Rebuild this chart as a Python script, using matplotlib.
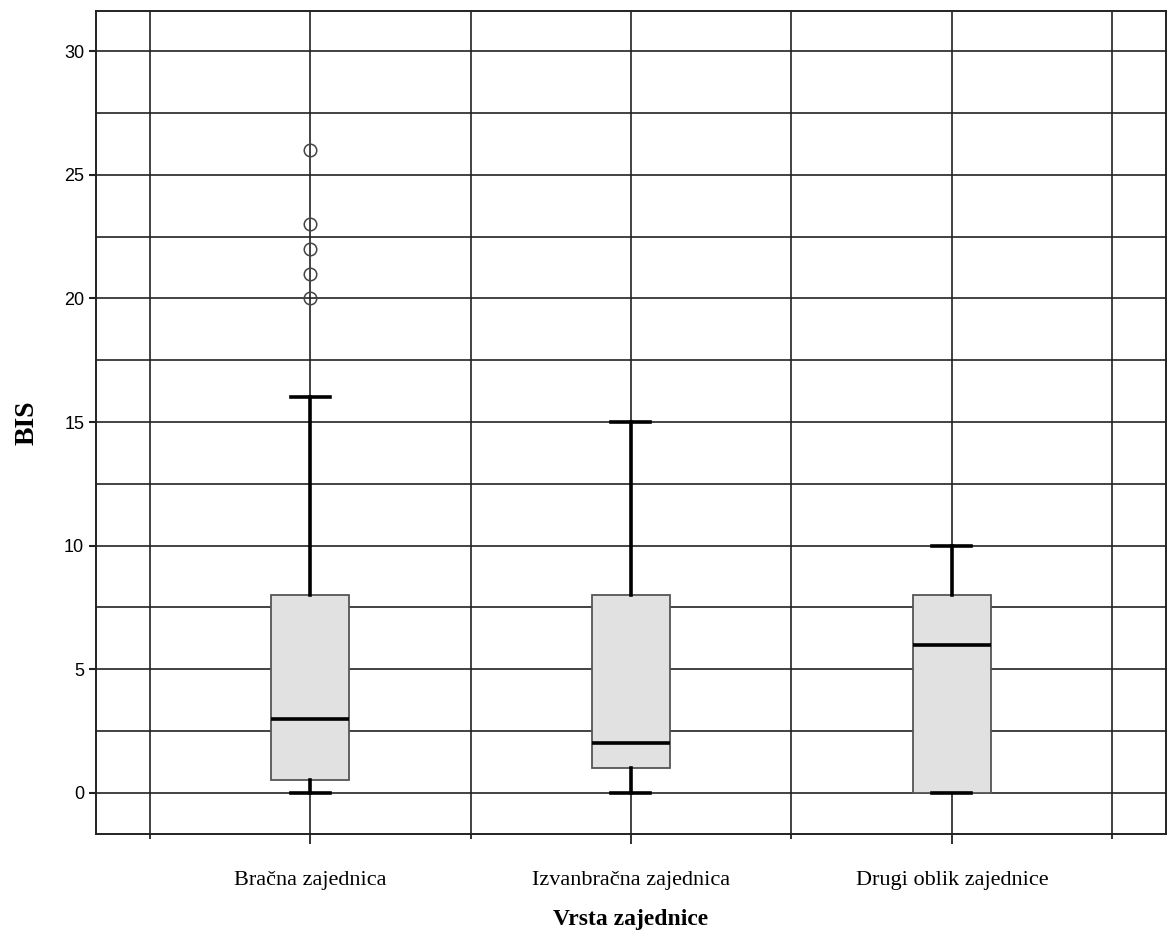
import matplotlib
matplotlib.use("Agg")
import matplotlib.pyplot as plt
from matplotlib.ticker import MultipleLocator

# podaci ocitani sa slike
kategorije = ["Bračna zajednica", "Izvanbračna zajednica", "Drugi oblik zajednice"]
donji_brk = [0, 0, 0]
q1 = [0.5, 1, 0]
medijan = [3, 2, 6]
q3 = [8, 8, 8]
gornji_brk = [16, 15, 10]
ekstremi = [[20, 21, 22, 23, 26], [], []]

stats = []
for i, naziv in enumerate(kategorije):
    stats.append({
        "label": naziv,
        "whislo": donji_brk[i],
        "q1": q1[i],
        "med": medijan[i],
        "q3": q3[i],
        "whishi": gornji_brk[i],
        "fliers": ekstremi[i],
    })

fig = plt.figure(figsize=(11.71, 9.38), dpi=100, facecolor="white")
ax = fig.add_axes([0.082, 0.111, 0.9137, 0.877])

ax.bxp(stats, positions=[1, 2, 3], widths=0.243, patch_artist=True,
       boxprops=dict(facecolor="#e1e1e1", edgecolor="#555555", linewidth=1.3),
       medianprops=dict(color="black", linewidth=2.6),
       whiskerprops=dict(color="black", linewidth=2.6),
       capprops=dict(color="black", linewidth=2.6),
       flierprops=dict(marker="o", markerfacecolor="none", markeredgecolor="#444444",
                       markersize=9, markeredgewidth=1.1),
       zorder=3)

ax.set_xlim(1 / 3, 11 / 3)
ax.set_ylim(-1.66, 31.62)

ax.yaxis.set_major_locator(MultipleLocator(5))
ax.yaxis.set_minor_locator(MultipleLocator(2.5))
ax.set_xticks([1, 2, 3])
ax.set_xticks([0.5, 1.5, 2.5, 3.5], minor=True)

ax.grid(True, which="both", color="#222222", linewidth=1.2, zorder=0)
ax.set_axisbelow(True)

ax.tick_params(axis="y", which="major", length=5, width=1.5, labelsize=13, color="#222222")
ax.tick_params(axis="y", which="minor", length=0)
ax.tick_params(axis="x", which="major", length=7.5, width=1.3, pad=19, color="#222222")
ax.tick_params(axis="x", which="minor", length=3.5, width=1.3, color="#222222")
for lab in ax.get_yticklabels():
    lab.set_family("Liberation Sans")
ax.set_xticklabels(kategorije, family="Liberation Serif", fontsize=16)

for s in ax.spines.values():
    s.set_color("#222222")
    s.set_linewidth(1.4)

ax.set_xlabel("Vrsta zajednice", family="Liberation Serif", fontsize=17,
              fontweight="bold", labelpad=14)
ax.set_ylabel("BIS", family="Liberation Serif", fontsize=20,
              fontweight="bold", labelpad=18)

fig.savefig("out.png", dpi=100, facecolor="white")
